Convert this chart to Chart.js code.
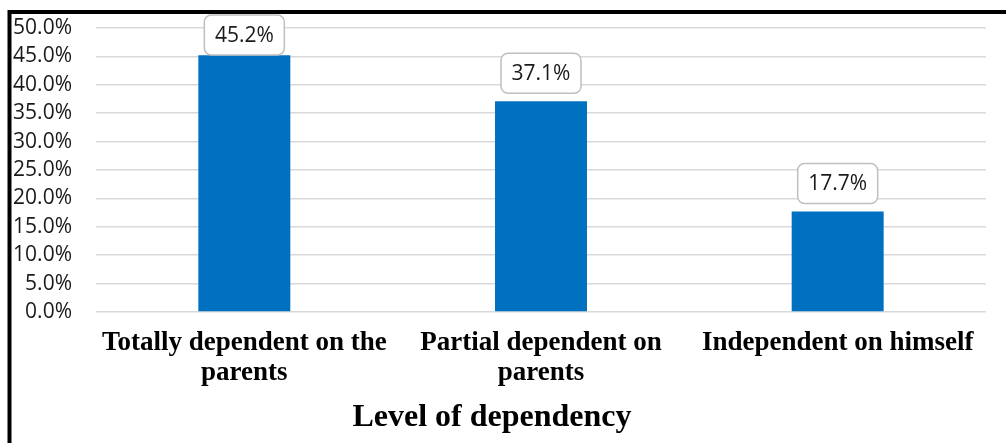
<!DOCTYPE html>
<html>
<head>
<meta charset="utf-8">
<script src="https://cdn.jsdelivr.net/npm/chart.js@4/dist/chart.umd.min.js"></script>
<style>
  html, body { margin: 0; padding: 0; background: #fff; }
  #wrap { position: relative; width: 1006px; height: 443px; }
</style>
</head>
<body>
<div id="wrap"><canvas id="myBarChart"></canvas></div>
<script>
const categories = [
  ['Totally dependent on the', 'parents'],
  ['Partial dependent on', 'parents'],
  'Independent on himself'
];
const percentages = [45.2, 37.1, 17.7];
const yTicks = [0, 5, 10, 15, 20, 25, 30, 35, 40, 45, 50];
const axisTitle = 'Level of dependency';

// frame on the left and top, plus the axis title (sits left of centre in the original)
const framePlugin = {
  id: 'frame',
  afterDraw(chart) {
    const ctx = chart.ctx;
    ctx.save();
    ctx.strokeStyle = '#000';
    ctx.lineWidth = 4;
    ctx.beginPath();
    ctx.moveTo(9.5, 443);
    ctx.lineTo(9.5, 12);
    ctx.lineTo(1006, 12);
    ctx.stroke();

    ctx.fillStyle = '#000';
    ctx.font = 'bold 32px "Liberation Serif"';
    ctx.textAlign = 'center';
    ctx.textBaseline = 'alphabetic';
    ctx.fillText(axisTitle, 492, 426);
    ctx.restore();
  }
};

// value boxes above the bars
const boxLabels = {
  id: 'boxLabels',
  afterDatasetsDraw(chart) {
    const ctx = chart.ctx;
    const meta = chart.getDatasetMeta(0);
    ctx.save();
    ctx.font = '21px "Open Sans"';
    ctx.textAlign = 'center';
    ctx.textBaseline = 'middle';
    meta.data.forEach((bar, i) => {
      const w = 80, h = 40;
      let top = bar.y - 8 - h;
      if (top < 15) top = 15;
      const left = bar.x - w / 2;
      ctx.beginPath();
      ctx.roundRect(left, top, w, h, 7);
      ctx.fillStyle = '#fff';
      ctx.fill();
      ctx.lineWidth = 1.5;
      ctx.strokeStyle = '#bfbfbf';
      ctx.stroke();
      ctx.fillStyle = '#1a1a1a';
      ctx.fillText(percentages[i].toFixed(1) + '%', bar.x, top + h / 2 + 1);
    });
    ctx.restore();
  }
};

function updateChart(labels, data) {
  const ctx = document.getElementById('myBarChart').getContext('2d');
  new Chart(ctx, {
    type: 'bar',
    data: {
      labels: labels,
      datasets: [{
        label: axisTitle,
        data: data,
        backgroundColor: '#0070C0',
        categoryPercentage: 1,
        barPercentage: 0.31
      }]
    },
    options: {
      responsive: true,
      maintainAspectRatio: false,
      animation: false,
      layout: { padding: { top: 28, right: 20, left: 0, bottom: 0 } },
      plugins: {
        legend: { display: false },
        tooltip: { enabled: false }
      },
      scales: {
        y: {
          min: 0,
          max: 50,
          afterBuildTicks: axis => { axis.ticks = yTicks.map(v => ({ value: v })); },
          afterFit: axis => {
            axis.width = 96;
            axis.paddingTop = 0;
            axis.paddingBottom = 0;
          },
          border: { display: false },
          grid: { color: '#d9d9d9', lineWidth: 1.5, drawTicks: false },
          ticks: {
            autoSkip: false,
            padding: 24,
            color: '#1a1a1a',
            font: { family: '"Open Sans"', size: 21 },
            callback: v => v.toFixed(1) + '%'
          }
        },
        x: {
          afterFit: axis => { axis.height = 131; },
          border: { display: false },
          grid: { display: false, drawTicks: false },
          ticks: {
            padding: 16,
            maxRotation: 0,
            autoSkip: false,
            color: '#000',
            font: { family: '"Liberation Serif"', size: 27, weight: 'bold', lineHeight: 1.11 }
          }
        }
      }
    },
    plugins: [boxLabels, framePlugin]
  });
}

updateChart(categories, percentages);
</script>
</body>
</html>
